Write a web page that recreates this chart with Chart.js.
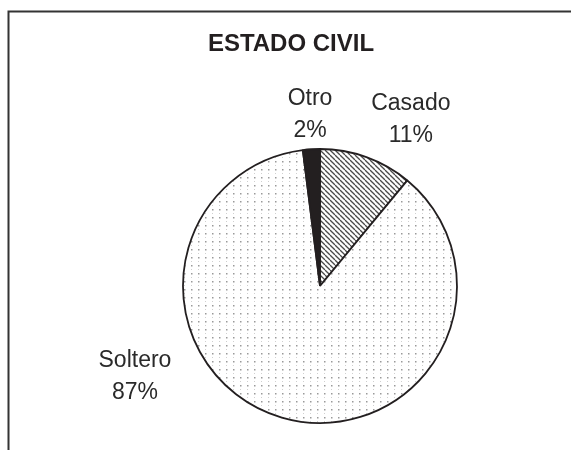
<!DOCTYPE html>
<html>
<head>
<meta charset="utf-8">
<title>Estado civil</title>
<script src="https://cdn.jsdelivr.net/npm/chart.js@4.4.1/dist/chart.umd.min.js"></script>
<style>
  body { margin: 0; background: #fff; }
  #chart { display: block; }
</style>
</head>
<body>
<canvas id="chart" width="571" height="450"></canvas>
<script>
  // data
  var chartTitle = "ESTADO CIVIL";
  var categories = ["Casado", "Soltero", "Otro"];
  var percents = [11, 87, 2];

  var ink = "#231f20";
  var fontFamily = "'Liberation Sans', Arial, sans-serif";

  // fill patterns, like the old b/w excel chart
  function hatchPattern(ctx) {
    var s = 5;
    var c = document.createElement("canvas");
    c.width = s; c.height = s;
    var g = c.getContext("2d");
    g.fillStyle = "#fff";
    g.fillRect(0, 0, s, s);
    g.strokeStyle = "#4a4a4a";
    g.lineWidth = 1.3;
    for (var k = -1; k <= 1; k++) {
      g.beginPath();
      g.moveTo(k * s, 0);
      g.lineTo(k * s + s, s);
      g.stroke();
    }
    return ctx.createPattern(c, "repeat");
  }

  function dotPattern(ctx) {
    var c = document.createElement("canvas");
    c.width = 7; c.height = 8;
    var g = c.getContext("2d");
    g.fillStyle = "#fff";
    g.fillRect(0, 0, 7, 8);
    g.fillStyle = "#999";
    g.fillRect(2, 1, 1.5, 1.5);
    g.fillStyle = "#d0d0d0";
    g.fillRect(2, 5, 1, 1);
    return ctx.createPattern(c, "repeat");
  }

  // frame line (top + left only) and the title
  var framePlugin = {
    id: "frame",
    beforeDraw: function(chart) {
      var ctx = chart.ctx;
      ctx.save();
      ctx.strokeStyle = "#333";
      ctx.lineWidth = 2;
      ctx.beginPath();
      ctx.moveTo(8.5, 450);
      ctx.lineTo(8.5, 11.5);
      ctx.lineTo(571, 11.5);
      ctx.stroke();
      ctx.restore();
    },
    afterDraw: function(chart) {
      var ctx = chart.ctx;
      ctx.save();
      ctx.fillStyle = ink;
      ctx.font = "bold 24px " + fontFamily;
      ctx.textAlign = "center";
      ctx.textBaseline = "alphabetic";
      ctx.fillText(chartTitle, 291, 51);
      ctx.restore();
    }
  };

  // "name / xx%" labels placed off the arc geometry
  var sliceLabels = {
    id: "sliceLabels",
    afterDatasetsDraw: function(chart, args, opts) {
      var ctx = chart.ctx;
      var meta = chart.getDatasetMeta(0);
      ctx.save();
      ctx.fillStyle = "#2a2a2a";
      ctx.font = "23px " + fontFamily;
      ctx.textAlign = "center";
      ctx.textBaseline = "alphabetic";
      meta.data.forEach(function(arc, i) {
        var p = arc.getProps(["x", "y", "startAngle", "endAngle", "outerRadius"], true);
        var a = (p.startAngle + p.endAngle) / 2 + opts.shift[i] * Math.PI / 180;
        var d = p.outerRadius * opts.dist[i];
        var cx = p.x + Math.cos(a) * d;
        var cy = p.y + Math.sin(a) * d;
        ctx.fillText(categories[i], cx, cy - 8);
        ctx.fillText(percents[i] + "%", cx, cy + 24);
      });
      ctx.restore();
    }
  };

  var ctx = document.getElementById("chart").getContext("2d");
  var chart = new Chart(ctx, {
    type: "pie",
    data: {
      labels: categories,
      datasets: [{
        data: percents,
        backgroundColor: [hatchPattern(ctx), dotPattern(ctx), ink],
        borderColor: ink,
        borderWidth: 1.8,
        radius: 137
      }]
    },
    options: {
      responsive: false,
      animation: false,
      events: [],
      devicePixelRatio: 1,
      layout: { padding: { top: 149, bottom: 27, left: 183, right: 114 } },
      plugins: {
        legend: { display: false },
        title: { display: false },
        tooltip: { enabled: false },
        sliceLabels: {
          shift: [8.6, 48.1, 0.3],   // degrees
          dist: [1.394, 1.499, 1.265]
        }
      }
    },
    plugins: [framePlugin, sliceLabels]
  });
</script>
</body>
</html>
